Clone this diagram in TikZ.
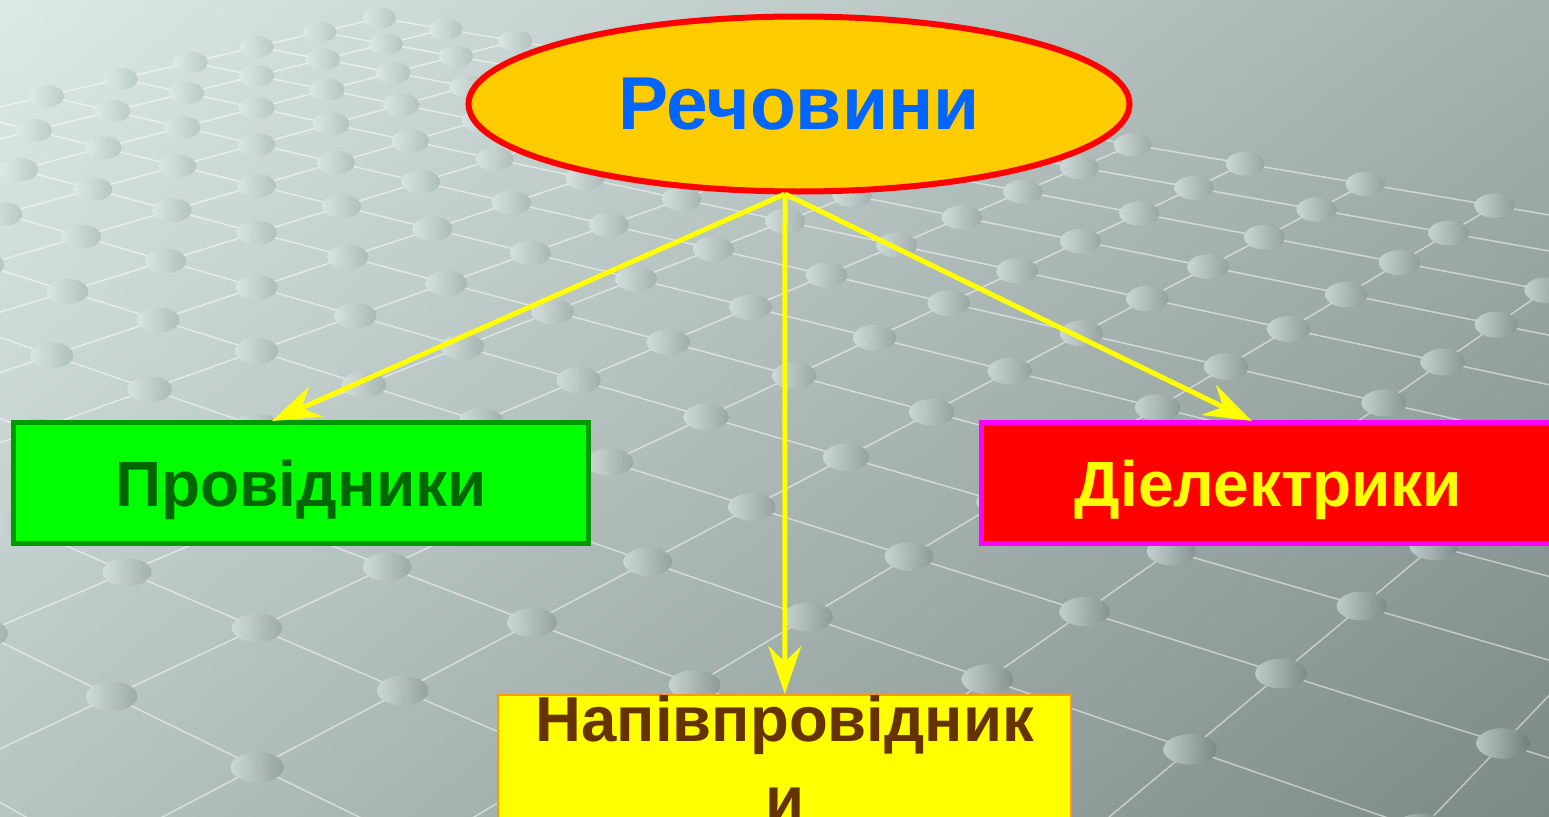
\documentclass[tikz,border=0pt]{standalone}
\usepackage{fontspec}
\setmainfont{Liberation Sans}
\usetikzlibrary{shapes.geometric,arrows.meta,shadings}

\definecolor{bgTL}{HTML}{DDE9E6}
\definecolor{bgTR}{HTML}{A5B1AE}
\definecolor{bgBL}{HTML}{B6C5C2}
\definecolor{bgBR}{HTML}{7D8987}
% knot colours: light side and shadow side, near and far corner
\definecolor{knotLnear}{HTML}{E3EFEC}
\definecolor{knotLfar}{HTML}{BAC7C5}
\definecolor{knotRnear}{HTML}{C4D2CF}
\definecolor{knotRfar}{HTML}{6E7A78}
\definecolor{rootfill}{HTML}{FFCC00}
\definecolor{rootline}{HTML}{FF0000}
\definecolor{roottext}{HTML}{0066FF}
\definecolor{condfill}{HTML}{00FF00}
\definecolor{condline}{HTML}{009900}
\definecolor{condtext}{HTML}{006600}
\definecolor{dielfill}{HTML}{FF0000}
\definecolor{dielline}{HTML}{FF00FF}
\definecolor{dieltext}{HTML}{FFFF00}
\definecolor{semifill}{HTML}{FFFF00}
\definecolor{semiline}{HTML}{FF9900}
\definecolor{semitext}{HTML}{663300}
\definecolor{arrowyellow}{HTML}{FFFF00}

% point (u,v) of the floor lattice seen in perspective
\newcommand\gridpt[3]{%
  \pgfmathsetmacro\gD{1+0.057*(#2)+0.0556*(#3)}%
  \pgfmathsetmacro\gX{(257-122.72*(#2)+151.57*(#3))/\gD}%
  \pgfmathsetmacro\gY{(628-23.26*(#2)-29.58*(#3))/\gD}%
  \coordinate (#1) at (\gX,\gY);}

\begin{document}
\begin{tikzpicture}[x=1pt,y=-1pt,
  gridline/.style={draw=white,draw opacity=0.5,line width=1.5pt},
  dotball/.style={left color=knotL,right color=knotR,fill opacity=0.95},
  rootnode/.style={ellipse,draw=rootline,line width=6pt,fill=rootfill,
    minimum width=661pt,minimum height=175pt,inner sep=0pt,
    text=roottext,font=\fontsize{75}{90}\selectfont\bfseries},
  boxnode/.style={rectangle,line width=5pt,minimum width=575pt,
    minimum height=121pt,inner sep=0pt,text height=46pt,text depth=0pt},
  condbox/.style={boxnode,draw=condline,fill=condfill,text=condtext,
    font=\fontsize{64}{80}\selectfont\bfseries},
  dielbox/.style={boxnode,draw=dielline,fill=dielfill,text=dieltext,
    font=\fontsize{64}{80}\selectfont\bfseries},
  semibox/.style={rectangle,line width=2pt,draw=semiline,fill=semifill,
    minimum width=573pt,minimum height=122pt,inner sep=0pt,align=center,
    text=semitext,font=\fontsize{63.5}{80}\selectfont\bfseries},
  arr/.style={draw=arrowyellow,line width=5pt,
    -{Stealth[length=48pt,width=33pt,inset=16pt]}}]

\useasboundingbox (0,0) rectangle (1549,816);
\clip (0,0) rectangle (1549,816);

% backdrop
\shade[upper left=bgTL,upper right=bgTR,lower left=bgBL,lower right=bgBR]
  (0,0) rectangle (1549,816);

% lattice lines
\foreach \u in {-6,...,10} {
  \gridpt{ga}{\u}{-3}\gridpt{gb}{\u}{12}
  \draw[gridline] (ga) -- (gb);
}
\foreach \v in {-3,...,12} {
  \gridpt{ga}{-6}{\v}\gridpt{gb}{10}{\v}
  \draw[gridline] (ga) -- (gb);
}
% lattice knots, darker towards the lower right
\foreach \u in {-6,...,10} {
  \foreach \v in {-3,...,12} {
    \gridpt{gc}{\u}{\v}
    \pgfmathsetmacro\rx{25/sqrt(\gD)}
    \pgfmathsetmacro\ry{14.5/(\gD^0.4)}
    \pgfmathtruncatemacro\kp{max(0,min(100,100-50*(\gX/1549+\gY/816)))}
    \colorlet{knotL}{knotLnear!\kp!knotLfar}
    \colorlet{knotR}{knotRnear!\kp!knotRfar}
    \shade[dotball] (gc) ellipse [x radius=\rx pt,y radius=\ry pt];
  }
}

% nodes
\node[rootnode] (root) at (799,104) {Речовини};
\node[condbox] (cond) at (301,483) {Провідники};
\node[dielbox] (diel) at (1268.5,483) {Діелектрики};
\node[semibox] (semi) at (784.8,758) {Напівпровідник\\и};

% connectors
\coordinate (hub) at (785,194);
\coordinate (tipL) at (272,421);
\coordinate (tipR) at (1252,421);
\draw[arr] (hub) -- (tipL);
\draw[arr] (hub) -- (semi.north);
\draw[arr] (hub) -- (tipR);
\end{tikzpicture}
\end{document}
